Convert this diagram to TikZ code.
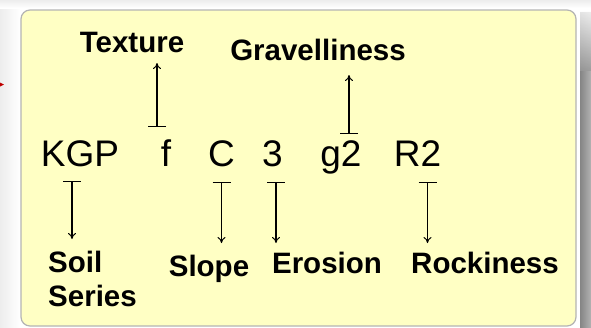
\documentclass[tikz,border=0pt]{standalone}
\usepackage{fontspec}
\setmainfont{Liberation Sans}
\usetikzlibrary{arrows.meta}
\definecolor{panel}{HTML}{FFFFC4}
\definecolor{panelrule}{HTML}{B4B4B4}
\definecolor{pagegray}{HTML}{EDEDED}
\tikzset{
  code/.style={font=\fontsize{37}{40}\selectfont, inner sep=0pt, anchor=base},
  tag/.style={font=\fontsize{29.5}{33}\selectfont\bfseries, inner sep=0pt, anchor=base},
  conn/.style={line width=1.1pt, {Bar[width=18pt,line width=1.1pt]}-{To[length=6pt,width=8pt,line width=1pt]}},
}
\begin{document}
\begin{tikzpicture}[x=1pt,y=-1pt]
\useasboundingbox (0,0) rectangle (591,327);
% page backdrop
\fill[white] (0,0) rectangle (591,327);
\shade[left color=pagegray, right color=white] (0,0) rectangle (20,327);
\shade[top color=pagegray, bottom color=white] (0,0) rectangle (591,8);
% drop shadow on the right
\shade[left color=black!48, right color=black!30] (580,12) rectangle (591,327);
\shade[top color=white, bottom color=black!40, opacity=0.8] (580,10) rectangle (591,70);
% small red mark at the left edge
\fill[red!75!black] (0,82.5) -- (4,84.5) -- (0,86.5) -- cycle;
% the panel
\draw[panelrule, line width=1.2pt, fill=panel, rounded corners=9pt] (21,10) rectangle (576,326);

% symbol line
\node[code] (kgp) at (80,166) {KGP};
\node[code] (f)   at (166,166) {f};
\node[code] (c)   at (221.5,166) {C};
\node[code] (e3)  at (272.5,166) {3};
\node[code] (g2)  at (341,166) {g2};
\node[code] (r2)  at (417.5,166) {R2};

% labels
\node[tag] (texture) at (132,52) {Texture};
\node[tag] (gravel)  at (318,60) {Gravelliness};
\node[tag, anchor=base west] (soil) at (48,272) {Soil};
\node[tag, anchor=base west] (series) at (48,306) {Series};
\node[tag] (slope)   at (209,276) {Slope};
\node[tag] (erosion) at (327,273) {Erosion};
\node[tag] (rock)    at (485,273) {Rockiness};

% connector ends
\coordinate (fbar) at (157,127);
\coordinate (ftip) at (157,63);
\coordinate (gbar) at (349,134);
\coordinate (gtip) at (349,75);
\coordinate (kbar) at (72,181);
\coordinate (ktip) at (72,239);
\coordinate (cbar) at (221.5,182);
\coordinate (ctip) at (221.5,243);
\coordinate (ebar) at (276,182);
\coordinate (etip) at (276,243);
\coordinate (rbar) at (427.5,182);
\coordinate (rtip) at (427.5,243);

\draw[conn] (fbar) -- (ftip);
\draw[conn] (gbar) -- (gtip);
\draw[conn] (kbar) -- (ktip);
\draw[conn] (cbar) -- (ctip);
\draw[conn] (ebar) -- (etip);
\draw[conn] (rbar) -- (rtip);
\end{tikzpicture}
\end{document}
